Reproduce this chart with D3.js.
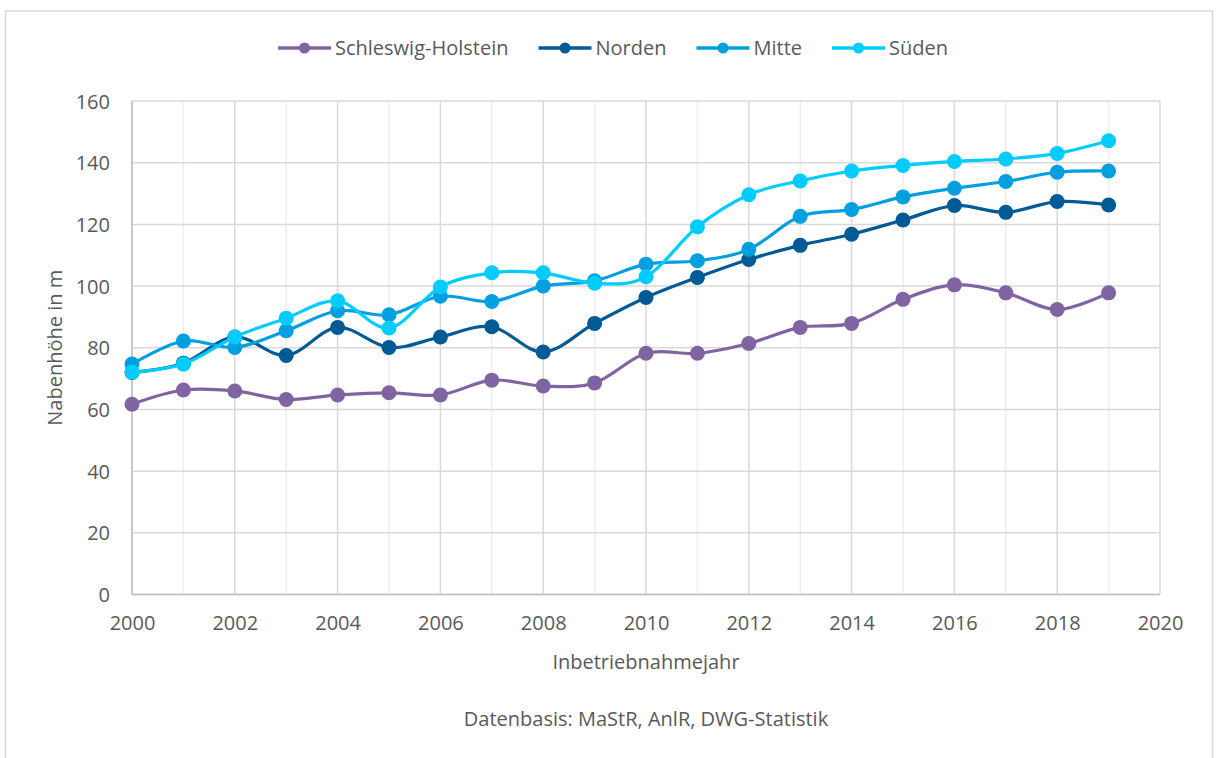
<!DOCTYPE html>
<html>
<head>
<meta charset="utf-8">
<script src="https://cdn.jsdelivr.net/npm/d3@7"></script>
<style>
  html, body { margin: 0; padding: 0; background: #fff; }
  svg { display: block; }
  text { font-family: "Open Sans", "Noto Sans", sans-serif; fill: #595959; }
</style>
</head>
<body>
<svg id="chart" width="1216" height="758"></svg>
<script>
const years = [2000,2001,2002,2003,2004,2005,2006,2007,2008,2009,2010,2011,2012,2013,2014,2015,2016,2017,2018,2019];
const seriesNames = ["Schleswig-Holstein", "Norden", "Mitte", "Süden"];
const seriesColors = ["#8064A2", "#005A96", "#009FE0", "#00CCFF"];
const schleswigHolstein = [61.7,66.3,66.0,63.2,64.7,65.4,64.7,69.5,67.6,68.6,78.2,78.2,81.4,86.6,87.9,95.7,100.4,97.8,92.4,97.8];
const norden = [72.0,75.0,83.5,77.5,86.6,80.1,83.5,86.8,78.6,87.9,96.3,102.8,108.6,113.2,116.8,121.4,126.1,123.9,127.4,126.3];
const mitte = [74.7,82.2,80.1,85.5,92.0,90.7,96.7,95.0,100.0,101.7,107.1,108.2,111.9,122.6,124.8,128.9,131.7,133.9,136.9,137.3];
const sueden = [72.1,74.7,83.5,89.6,95.2,86.4,99.7,104.3,104.3,100.9,103.0,119.2,129.6,134.1,137.3,139.1,140.4,141.2,143.0,147.1];
const yTicks = [0,20,40,60,80,100,120,140,160];
const xTicks = [2000,2002,2004,2006,2008,2010,2012,2014,2016,2018,2020];
const yTitle = "Nabenhöhe in m";
const xTitle = "Inbetriebnahmejahr";
const sourceNote = "Datenbasis: MaStR, AnlR, DWG-Statistik";

const allSeries = [schleswigHolstein, norden, mitte, sueden];

const svg = d3.select("#chart");
const plot = { left: 132, right: 1160, top: 101, bottom: 594.5 };

// outer frame
svg.append("rect").attr("x", 5.5).attr("y", 11).attr("width", 1207).attr("height", 770)
  .attr("fill", "none").attr("stroke", "#d9d9d9").attr("stroke-width", 1.5);

const x = d3.scaleLinear().domain([2000, 2020]).range([plot.left, plot.right]);
const y = d3.scaleLinear().domain([0, 160]).range([plot.bottom, plot.top]);

// vertical gridlines (every year)
const allYears = d3.range(2000, 2021);
svg.append("g").selectAll("line").data(allYears).join("line")
  .attr("x1", d => x(d)).attr("x2", d => x(d))
  .attr("y1", plot.top).attr("y2", plot.bottom)
  .attr("stroke", d => d % 2 === 0 ? "#d9d9d9" : "#eeeeee")
  .attr("stroke-width", 1.5);

// horizontal gridlines
svg.append("g").selectAll("line").data(yTicks).join("line")
  .attr("x1", plot.left).attr("x2", plot.right)
  .attr("y1", d => y(d)).attr("y2", d => y(d))
  .attr("stroke", "#d9d9d9").attr("stroke-width", 1.5);

// axis lines
svg.append("line").attr("x1", plot.left).attr("x2", plot.left).attr("y1", plot.top).attr("y2", plot.bottom)
  .attr("stroke", "#bfbfbf").attr("stroke-width", 1.5);
svg.append("line").attr("x1", plot.left).attr("x2", plot.right).attr("y1", plot.bottom).attr("y2", plot.bottom)
  .attr("stroke", "#bfbfbf").attr("stroke-width", 1.5);

// axes via d3 axis generators (labels only)
const yAxis = d3.axisLeft(y).tickValues(yTicks).tickSize(0).tickPadding(0).tickFormat(d3.format("d"));
const gy = svg.append("g").attr("transform", `translate(${plot.left - 22},0)`).call(yAxis);
gy.select(".domain").remove();
gy.selectAll("text").style("font-size", "20px").attr("fill", "#595959").attr("dy", "0.35em");

const xAxis = d3.axisBottom(x).tickValues(xTicks).tickSize(0).tickPadding(0).tickFormat(d3.format("d"));
const gx = svg.append("g").attr("transform", `translate(0,${plot.bottom + 21})`).call(xAxis);
gx.select(".domain").remove();
gx.selectAll("text").style("font-size", "20px").attr("fill", "#595959").attr("dy", "0.71em");

// titles
svg.append("text").attr("transform", `translate(55,${(plot.top + plot.bottom) / 2}) rotate(-90)`)
  .attr("text-anchor", "middle").attr("dy", "0.35em").style("font-size", "20px").text(yTitle);
svg.append("text").attr("x", (plot.left + plot.right) / 2).attr("y", 662)
  .attr("text-anchor", "middle").attr("dy", "0.35em").style("font-size", "20px").text(xTitle);
svg.append("text").attr("x", (plot.left + plot.right) / 2).attr("y", 719)
  .attr("text-anchor", "middle").attr("dy", "0.35em").style("font-size", "20px").text(sourceNote);

// series
const line = d3.line().x((d, i) => x(years[i])).y(d => y(d)).curve(d3.curveCardinal.tension(0));
allSeries.forEach((vals, si) => {
  const g = svg.append("g");
  g.append("path").datum(vals).attr("d", line)
    .attr("fill", "none").attr("stroke", seriesColors[si]).attr("stroke-width", 3.2)
    .attr("stroke-linejoin", "round").attr("stroke-linecap", "round");
  g.selectAll("circle").data(vals).join("circle")
    .attr("cx", (d, i) => x(years[i])).attr("cy", d => y(d)).attr("r", 7.5)
    .attr("fill", seriesColors[si]);
});

// legend
const legend = svg.append("g");
const items = [];
seriesNames.forEach((name, i) => {
  const g = legend.append("g");
  g.append("line").attr("x1", 0).attr("x2", 53).attr("y1", 0).attr("y2", 0)
    .attr("stroke", seriesColors[i]).attr("stroke-width", 3.5);
  g.append("circle").attr("cx", 26.5).attr("cy", 0).attr("r", 5.5).attr("fill", seriesColors[i]);
  const t = g.append("text").attr("x", 57).attr("y", 0).attr("dy", "0.35em").style("font-size", "20px").text(name);
  const w = 57 + t.node().getComputedTextLength();
  items.push({ g, w });
});
const gap = 30;
const total = d3.sum(items, d => d.w) + gap * (items.length - 1);
let start = 613 - total / 2;
items.forEach(it => {
  it.g.attr("transform", `translate(${start},48)`);
  start += it.w + gap;
});
</script>
</body>
</html>
